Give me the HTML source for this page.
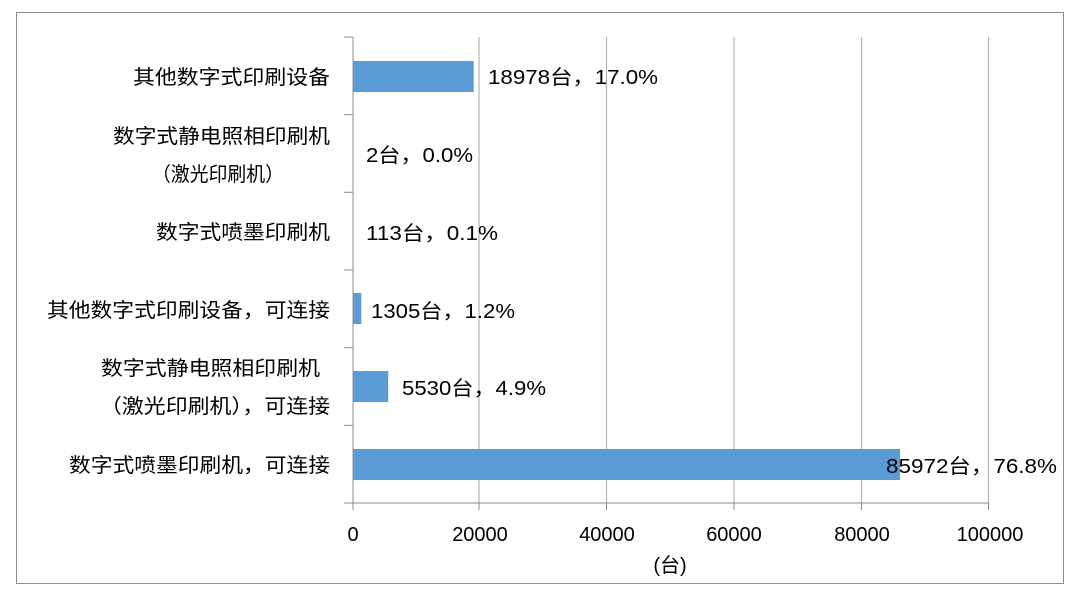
<!DOCTYPE html>
<html><head><meta charset="utf-8"><style>
html,body{margin:0;padding:0;background:#fff;}
svg{display:block;}
text{font-family:"Liberation Sans","Noto Sans CJK SC",sans-serif;font-size:20px;fill:#000;}
</style></head><body>
<svg width="1080" height="599" viewBox="0 0 1080 599">
<rect x="16.5" y="12.5" width="1047" height="571" fill="#fff" stroke="#8c8c8c" stroke-width="1"/>
<g stroke="#b3b3b3" stroke-width="1.2">
<line x1="479" y1="37" x2="479" y2="503"/>
<line x1="606.5" y1="37" x2="606.5" y2="503"/>
<line x1="734" y1="37" x2="734" y2="503"/>
<line x1="861.5" y1="37" x2="861.5" y2="503"/>
<line x1="988.5" y1="37" x2="988.5" y2="503"/>
</g>
<g fill="#5b9bd5">
<rect x="353" y="61" width="120.7" height="31"/>
<rect x="353" y="293" width="8.3" height="31"/>
<rect x="353" y="371" width="35.2" height="31"/>
<rect x="353" y="449" width="547" height="31"/>
</g>
<g stroke="#8c8c8c" stroke-width="1">
<line x1="353" y1="37" x2="353" y2="510"/>
<line x1="344" y1="503" x2="989" y2="503"/>
<line x1="344" y1="37" x2="353" y2="37"/>
<line x1="344" y1="114.7" x2="353" y2="114.7"/>
<line x1="344" y1="192.3" x2="353" y2="192.3"/>
<line x1="344" y1="270" x2="353" y2="270"/>
<line x1="344" y1="347.7" x2="353" y2="347.7"/>
<line x1="344" y1="425.3" x2="353" y2="425.3"/>
<line x1="479" y1="503" x2="479" y2="510"/>
<line x1="606.5" y1="503" x2="606.5" y2="510"/>
<line x1="734" y1="503" x2="734" y2="510"/>
<line x1="861.5" y1="503" x2="861.5" y2="510"/>
<line x1="988.5" y1="503" x2="988.5" y2="510"/>
</g>
<g lengthAdjust="spacingAndGlyphs">
<text x="133" y="84" textLength="197" lengthAdjust="spacingAndGlyphs">其他数字式印刷设备</text>
<text x="113" y="143" textLength="217" lengthAdjust="spacingAndGlyphs">数字式静电照相印刷机</text>
<text x="152" y="181" textLength="132" lengthAdjust="spacingAndGlyphs">（激光印刷机）</text>
<text x="156" y="239" textLength="174" lengthAdjust="spacingAndGlyphs">数字式喷墨印刷机</text>
<text x="47" y="317" textLength="283" lengthAdjust="spacingAndGlyphs">其他数字式印刷设备，可连接</text>
<text x="101" y="375" textLength="219" lengthAdjust="spacingAndGlyphs">数字式静电照相印刷机</text>
<text x="100" y="413" textLength="230" lengthAdjust="spacingAndGlyphs">（激光印刷机），可连接</text>
<text x="69" y="472" textLength="261" lengthAdjust="spacingAndGlyphs">数字式喷墨印刷机，可连接</text>
</g>
<text x="488" y="84" textLength="170" lengthAdjust="spacingAndGlyphs">18978台，17.0%</text>
<text x="366" y="162" textLength="107" lengthAdjust="spacingAndGlyphs">2台，0.0%</text>
<text x="366" y="240" textLength="132" lengthAdjust="spacingAndGlyphs">113台，0.1%</text>
<text x="371" y="318" textLength="144" lengthAdjust="spacingAndGlyphs">1305台，1.2%</text>
<text x="402" y="395" textLength="144" lengthAdjust="spacingAndGlyphs">5530台，4.9%</text>
<text x="886" y="473" textLength="171" lengthAdjust="spacingAndGlyphs">85972台，76.8%</text>
<g text-anchor="middle" style="font-size:21px">
<text x="353" y="541">0</text>
<text x="480" y="541">20000</text>
<text x="607" y="541">40000</text>
<text x="734" y="541">60000</text>
<text x="862" y="541">80000</text>
<text x="990" y="541">100000</text>
<text x="670" y="572">(台)</text>
</g>
</svg>
</body></html>
